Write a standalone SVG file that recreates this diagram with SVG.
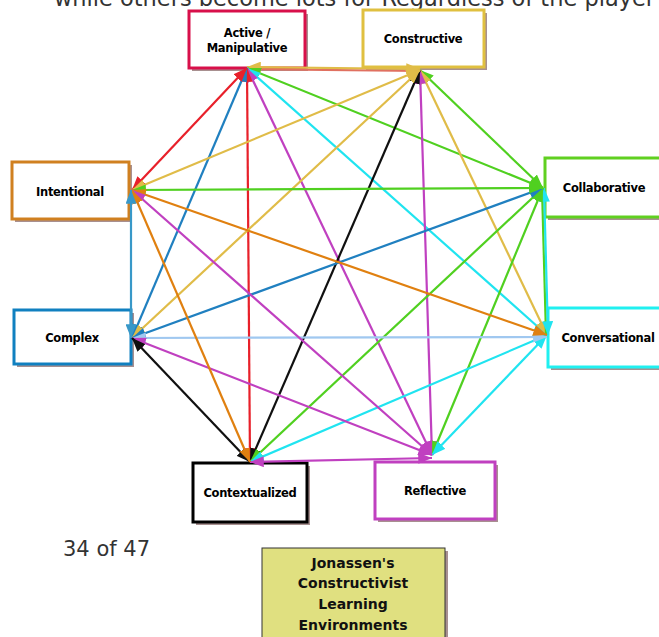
<svg xmlns="http://www.w3.org/2000/svg" width="659" height="637" viewBox="0 0 659 637">
<style>
.box{fill:#fff;stroke-width:3}
.sh{fill:#a89090}
.lbl{font-family:"DejaVu Sans",sans-serif;font-weight:bold;font-size:11.5px;fill:#000;text-anchor:middle;letter-spacing:-0.3px}
.e{fill:none;stroke-width:2.2}
</style>
<defs>
<marker id="mr" viewBox="0 0 10 8" refX="10" refY="4" markerUnits="userSpaceOnUse" markerWidth="14" markerHeight="11" orient="auto-start-reverse"><path d="M0,0L10,4L0,8z" fill="#e8202a"/></marker>
<marker id="my" viewBox="0 0 10 8" refX="10" refY="4" markerUnits="userSpaceOnUse" markerWidth="14" markerHeight="11" orient="auto-start-reverse"><path d="M0,0L10,4L0,8z" fill="#e0bc48"/></marker>
<marker id="mg" viewBox="0 0 10 8" refX="10" refY="4" markerUnits="userSpaceOnUse" markerWidth="14" markerHeight="11" orient="auto-start-reverse"><path d="M0,0L10,4L0,8z" fill="#50d020"/></marker>
<marker id="mc" viewBox="0 0 10 8" refX="10" refY="4" markerUnits="userSpaceOnUse" markerWidth="14" markerHeight="11" orient="auto-start-reverse"><path d="M0,0L10,4L0,8z" fill="#20e4f0"/></marker>
<marker id="mm" viewBox="0 0 10 8" refX="10" refY="4" markerUnits="userSpaceOnUse" markerWidth="14" markerHeight="11" orient="auto-start-reverse"><path d="M0,0L10,4L0,8z" fill="#c040c0"/></marker>
<marker id="mk" viewBox="0 0 10 8" refX="10" refY="4" markerUnits="userSpaceOnUse" markerWidth="14" markerHeight="11" orient="auto-start-reverse"><path d="M0,0L10,4L0,8z" fill="#101010"/></marker>
<marker id="mb" viewBox="0 0 10 8" refX="10" refY="4" markerUnits="userSpaceOnUse" markerWidth="14" markerHeight="11" orient="auto-start-reverse"><path d="M0,0L10,4L0,8z" fill="#2080c0"/></marker>
<marker id="mo" viewBox="0 0 10 8" refX="10" refY="4" markerUnits="userSpaceOnUse" markerWidth="14" markerHeight="11" orient="auto-start-reverse"><path d="M0,0L10,4L0,8z" fill="#e08010"/></marker>
<marker id="ml" viewBox="0 0 10 8" refX="10" refY="4" markerUnits="userSpaceOnUse" markerWidth="14" markerHeight="11" orient="auto-start-reverse"><path d="M0,0L10,4L0,8z" fill="#a0c8f0"/></marker>
<marker id="ms" viewBox="0 0 10 8" refX="10" refY="4" markerUnits="userSpaceOnUse" markerWidth="14" markerHeight="11" orient="auto-start-reverse"><path d="M0,0L10,4L0,8z" fill="#3898c8"/></marker>
</defs>
<rect width="659" height="637" fill="#fff"/>
<text x="54" y="6" font-family="DejaVu Sans,sans-serif" font-size="23" fill="#333" textLength="601" lengthAdjust="spacingAndGlyphs">while others become lots for Regardless of the player</text>

<g id="n-active"><rect class="sh" x="192" y="14" width="116" height="57"/><rect class="box" x="189" y="11" width="116" height="57" stroke="#d8104a"/><text class="lbl" x="247" y="37">Active /</text><text class="lbl" x="247" y="52">Manipulative</text></g>
<g id="n-constructive"><rect class="sh" x="366" y="13" width="121" height="57"/><rect class="box" x="363" y="10" width="121" height="57" stroke="#e0c040"/><text class="lbl" x="423" y="43">Constructive</text></g>
<g id="n-intentional"><rect class="sh" x="15" y="165" width="117" height="57"/><rect class="box" x="12" y="162" width="117" height="57" stroke="#d08020"/><text class="lbl" x="70" y="196">Intentional</text></g>
<g id="n-complex"><rect class="sh" x="17" y="313" width="117" height="54"/><rect class="box" x="14" y="310" width="117" height="54" stroke="#1080c0"/><text class="lbl" x="72" y="342">Complex</text></g>
<g id="n-collaborative"><rect class="sh" x="548" y="161" width="120" height="59"/><rect class="box" x="545" y="158" width="120" height="59" stroke="#60d020"/><text class="lbl" x="604" y="192">Collaborative</text></g>
<g id="n-conversational"><rect class="sh" x="551" y="311" width="120" height="59"/><rect class="box" x="548" y="308" width="120" height="59" stroke="#20f0f0"/><text class="lbl" x="608" y="342">Conversational</text></g>
<g id="n-contextualized"><rect class="sh" x="196" y="466" width="114" height="59"/><rect class="box" x="193" y="463" width="114" height="59" stroke="#000"/><text class="lbl" x="250" y="497">Contextualized</text></g>
<g id="n-reflective"><rect class="sh" x="378" y="465" width="120" height="57"/><rect class="box" x="375" y="462" width="120" height="57" stroke="#c040c0"/><text class="lbl" x="435" y="495">Reflective</text></g>

<g id="connectors">
<line class="e" x1="247" y1="69" x2="420" y2="71" stroke="#e07060" stroke-width="2.5"/>
<line class="e" x1="247" y1="67" x2="420" y2="69" stroke="#e0bc48" marker-start="url(#my)" marker-end="url(#my)"/>
<line class="e" x1="247" y1="68" x2="543" y2="188" stroke="#50d020" marker-start="url(#mg)" marker-end="url(#mg)"/>
<line class="e" x1="247" y1="68" x2="547" y2="335" stroke="#20e4f0" marker-start="url(#mc)" marker-end="url(#mc)"/>
<line class="e" x1="247" y1="68" x2="432" y2="455" stroke="#c040c0" marker-start="url(#mm)" marker-end="url(#mm)"/>
<line class="e" x1="247" y1="68" x2="250" y2="462" stroke="#e8202a" marker-start="url(#mr)" marker-end="url(#mr)"/>
<line class="e" x1="247" y1="68" x2="132" y2="338" stroke="#2080c0" marker-start="url(#mb)" marker-end="url(#mb)"/>
<line class="e" x1="247" y1="68" x2="132" y2="190" stroke="#e8202a" marker-start="url(#mr)" marker-end="url(#mr)"/>

<line class="e" x1="420" y1="70" x2="543" y2="188" stroke="#50d020" marker-start="url(#mg)" marker-end="url(#mg)"/>
<line class="e" x1="420" y1="70" x2="547" y2="335" stroke="#e0bc48" marker-start="url(#my)" marker-end="url(#my)"/>
<line class="e" x1="420" y1="70" x2="432" y2="455" stroke="#c040c0" marker-start="url(#mm)" marker-end="url(#mm)"/>
<line class="e" x1="420" y1="70" x2="250" y2="462" stroke="#101010" marker-start="url(#mk)" marker-end="url(#mk)"/>
<line class="e" x1="420" y1="70" x2="132" y2="338" stroke="#e0bc48" marker-start="url(#my)" marker-end="url(#my)"/>
<line class="e" x1="420" y1="70" x2="132" y2="190" stroke="#e0bc48" marker-start="url(#my)" marker-end="url(#my)"/>

<line class="e" x1="542" y1="188" x2="546" y2="335" stroke="#50d020"/>
<line class="e" x1="544" y1="188" x2="548" y2="335" stroke="#20e4f0" marker-start="url(#mc)" marker-end="url(#mc)"/>
<line class="e" x1="543" y1="188" x2="432" y2="455" stroke="#50d020" marker-start="url(#mg)" marker-end="url(#mg)"/>
<line class="e" x1="543" y1="188" x2="250" y2="462" stroke="#50d020" marker-start="url(#mg)" marker-end="url(#mg)"/>
<line class="e" x1="543" y1="188" x2="132" y2="338" stroke="#2080c0" marker-start="url(#mb)" marker-end="url(#mb)"/>
<line class="e" x1="543" y1="188" x2="132" y2="190" stroke="#50d020" stroke-width="1.5" marker-start="url(#mg)" marker-end="url(#mg)"/>

<line class="e" x1="547" y1="335" x2="432" y2="455" stroke="#20e4f0" marker-start="url(#mc)" marker-end="url(#mc)"/>
<line class="e" x1="547" y1="335" x2="250" y2="462" stroke="#20e4f0" marker-start="url(#mc)" marker-end="url(#mc)"/>
<line class="e" x1="547" y1="337" x2="132" y2="338" stroke="#a0c8f0" marker-start="url(#ml)" marker-end="url(#ml)"/>
<line class="e" x1="547" y1="335" x2="132" y2="190" stroke="#e08010" marker-start="url(#mo)" marker-end="url(#mo)"/>

<line class="e" x1="432" y1="458" x2="250" y2="462" stroke="#c040c0" marker-start="url(#mm)" marker-end="url(#mm)"/>
<line class="e" x1="432" y1="455" x2="132" y2="338" stroke="#c040c0" marker-start="url(#mm)" marker-end="url(#mm)"/>
<line class="e" x1="432" y1="455" x2="132" y2="190" stroke="#c040c0" marker-start="url(#mm)" marker-end="url(#mm)"/>

<line class="e" x1="250" y1="462" x2="132" y2="338" stroke="#101010" marker-start="url(#mk)" marker-end="url(#mk)"/>
<line class="e" x1="250" y1="462" x2="132" y2="190" stroke="#e08010" marker-start="url(#mo)" marker-end="url(#mo)"/>

<line class="e" x1="131" y1="190" x2="131" y2="338" stroke="#3898c8" stroke-width="2.5" marker-start="url(#ms)" marker-end="url(#ms)"/>
</g>

<text x="63" y="556" font-family="DejaVu Sans,sans-serif" font-size="21" fill="#333">34 of 47</text>
<g id="n-title"><rect x="265" y="551" width="183" height="95" fill="#a89090"/><rect x="262" y="548" width="183" height="95" fill="#e0e080" stroke="#333" stroke-width="1"/>
<g font-family="DejaVu Sans,sans-serif" font-weight="bold" font-size="14" fill="#111" text-anchor="middle"><text x="353" y="568">Jonassen's</text><text x="353" y="588">Constructivist</text><text x="353" y="609">Learning</text><text x="353" y="630">Environments</text></g></g>
</svg>
